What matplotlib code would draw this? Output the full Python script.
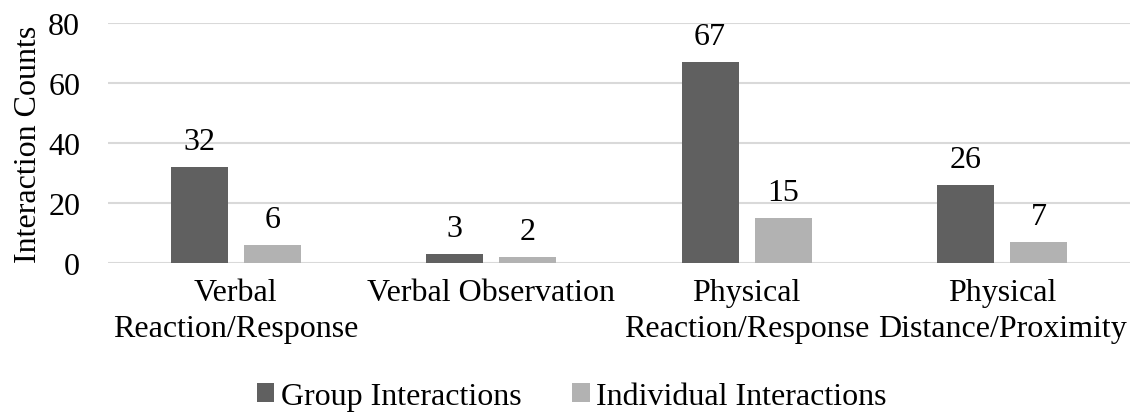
import matplotlib
matplotlib.use("Agg")
import matplotlib.pyplot as plt
import numpy as np

categories = ["Verbal\nReaction/Response", "Verbal Observation",
              "Physical\nReaction/Response", "Physical\nDistance/Proximity"]
group_vals = [32, 3, 67, 26]
indiv_vals = [6, 2, 15, 7]
series_names = ["Group Interactions", "Individual Interactions"]
yticks = [0, 20, 40, 60, 80]

plt.rcParams['font.family'] = ['Liberation Serif', 'DejaVu Serif']
FS = 23
plt.rcParams['font.size'] = FS

fig = plt.figure(figsize=(11.32, 4.14), dpi=100)
ax = fig.add_axes([0.0954, 0.362, 0.9026, 0.58])

x = np.arange(len(categories))
w = 0.223
off = (w + 0.063) / 2
dark = "#606060"
light = "#b2b2b2"
b1 = ax.bar(x - off, group_vals, w, color=dark, label=series_names[0], zorder=3)
b2 = ax.bar(x + off, indiv_vals, w, color=light, label=series_names[1], zorder=3)
for bars in (b1, b2):
    for r in bars:
        ax.annotate(f"{int(r.get_height())}", (r.get_x() + r.get_width() / 2, r.get_height()),
                    xytext=(0, 8), textcoords="offset points", ha="center", va="bottom",
                    fontsize=FS)

ax.set_xlim(-0.5, len(categories) - 0.5)
ax.set_ylim(0, 80)
ax.set_yticks(yticks)
ax.yaxis.grid(True, color="#d9d9d9", linewidth=1.5, zorder=0)
ax.set_axisbelow(True)
for s in ax.spines.values():
    s.set_visible(False)
ax.tick_params(axis="both", length=0, labelsize=FS)
ax.tick_params(axis="y", pad=20)
ax.tick_params(axis="x", pad=11)
ax.set_xticks(x)
ax.set_xticklabels(categories, linespacing=1.3)
ax.set_ylabel("Interaction Counts", fontsize=FS, labelpad=4)

fig.legend(handles=[b1, b2], labels=series_names, loc="center", bbox_to_anchor=(0.505, 0.04),
           ncol=2, frameon=False, fontsize=FS, handlelength=0.55, handleheight=0.55,
           handletextpad=0.2, columnspacing=1.6)

fig.savefig("out.png", dpi=100)
